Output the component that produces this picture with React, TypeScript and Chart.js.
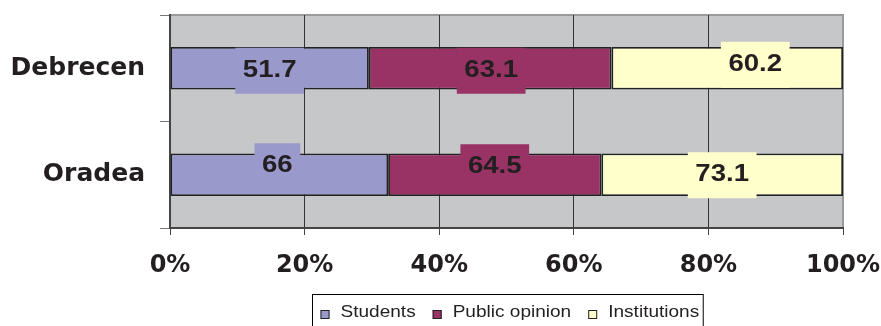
import React, { useEffect, useRef } from "react";
import { Chart, registerables } from "chart.js";

Chart.register(...registerables);

const categories = ["Debrecen", "Oradea"];
const seriesNames = ["Students", "Public opinion", "Institutions"];
const students = [51.7, 66];
const publicOpinion = [63.1, 64.5];
const institutions = [60.2, 73.1];
const seriesValues = [students, publicOpinion, institutions];
const seriesColors = ["#9999cc", "#993366", "#ffffcc"];
const xTickStep = 20;

// label nudges (dx, dy) relative to the bar segment centre, per series per category
const labelOffsets = [
  [[0, 1], [-2, -10]],
  [[1, 1], [0, -9]],
  [[28, -5], [0, -1]],
];

const totals = categories.map((_, j) => seriesValues.reduce((s, arr) => s + arr[j], 0));
const percentData = seriesValues.map((arr) => arr.map((v, j) => (v / totals[j]) * 100));

const TEXT = "#231f20";
const LABEL_SX = 1.15;
const LEGEND_SX = 1.12;

const backgroundPlugin = {
  id: "plotBg",
  beforeDraw(chart: any) {
    const { ctx, chartArea: a } = chart;
    ctx.save();
    ctx.fillStyle = "#c6c7c9";
    ctx.fillRect(a.left, a.top, a.right - a.left, a.bottom - a.top);
    ctx.strokeStyle = "#9a9a9a";
    ctx.lineWidth = 2;
    ctx.beginPath();
    ctx.moveTo(a.left, a.top);
    ctx.lineTo(a.right, a.top);
    ctx.lineTo(a.right, a.bottom);
    ctx.stroke();
    ctx.restore();
  },
};

const valueLabelPlugin = {
  id: "valueLabels",
  afterDatasetsDraw(chart: any) {
    const ctx = chart.ctx;
    chart.data.datasets.forEach((ds: any, i: number) => {
      const meta = chart.getDatasetMeta(i);
      meta.data.forEach((bar: any, j: number) => {
        const text = String(seriesValues[i][j]);
        const off = labelOffsets[i][j];
        const cx = (bar.x + bar.base) / 2 + off[0];
        const cy = bar.y + off[1];
        ctx.save();
        ctx.font = 'bold 24px "Liberation Sans", Arial, sans-serif';
        const tw = ctx.measureText(text).width * LABEL_SX;
        ctx.fillStyle = ds.backgroundColor;
        ctx.fillRect(cx - tw / 2 - 7.5, cy - 21.5, tw + 15, 46);
        ctx.translate(cx, cy);
        ctx.scale(LABEL_SX, 1);
        ctx.textAlign = "center";
        ctx.textBaseline = "middle";
        ctx.fillStyle = TEXT;
        ctx.fillText(text, 0, 1);
        ctx.restore();
      });
    });
  },
};

const legendPlugin = {
  id: "boxLegend",
  afterDraw(chart: any) {
    const { ctx, chartArea: a } = chart;
    const H = chart.height;
    ctx.save();
    ctx.font = '17px "Liberation Sans", Arial, sans-serif';
    const items = chart.data.datasets.map((ds: any) => ({
      text: ds.label,
      color: ds.backgroundColor,
      w: ctx.measureText(ds.label).width * LEGEND_SX,
    }));
    const sq = 9;
    const gapText = 11;
    const gapItem = 17;
    const padL = 8;
    const padR = 4;
    let total = padL + padR;
    items.forEach((it: any, k: number) => {
      total += sq + gapText + it.w + (k > 0 ? gapItem : 0);
    });
    const left = Math.round((a.left + a.right) / 2 - total / 2) + 1.5;
    const top = H - 32 + 0.5;
    ctx.strokeStyle = "#000";
    ctx.lineWidth = 1;
    ctx.strokeRect(left, top, total, 40);
    let x = left + padL;
    items.forEach((it: any) => {
      ctx.fillStyle = it.color;
      ctx.fillRect(x, H - 16, sq, sq);
      ctx.strokeStyle = "#222";
      ctx.strokeRect(x + 0.5, H - 16 + 0.5, sq - 1, sq - 1);
      x += sq + gapText;
      ctx.save();
      ctx.translate(x, H - 9);
      ctx.scale(LEGEND_SX, 1);
      ctx.fillStyle = TEXT;
      ctx.textBaseline = "alphabetic";
      ctx.textAlign = "left";
      ctx.fillText(it.text, 0, 0);
      ctx.restore();
      x += it.w + gapItem;
    });
    ctx.restore();
  },
};

export default function App() {
  const canvasRef = useRef<HTMLCanvasElement | null>(null);

  useEffect(() => {
    if (!canvasRef.current) return;
    const chart = new Chart(canvasRef.current, {
      type: "bar",
      data: {
        labels: categories,
        datasets: seriesNames.map((name, i) => ({
          label: name,
          data: percentData[i],
          backgroundColor: seriesColors[i],
          borderColor: "#222",
          borderWidth: 1.8,
          borderSkipped: false,
          barPercentage: 0.4,
          categoryPercentage: 1,
        })),
      },
      options: {
        indexAxis: "y",
        responsive: false,
        animation: false,
        events: [],
        layout: { padding: { top: 15, right: 38, bottom: 38, left: 0 } },
        plugins: {
          legend: { display: false },
          tooltip: { enabled: false },
        },
        scales: {
          x: {
            stacked: true,
            min: 0,
            max: 100,
            ticks: {
              stepSize: xTickStep,
              callback: (v: any) => v + "%",
              color: TEXT,
              font: { family: '"DejaVu Sans", sans-serif', weight: "bold", size: 24 },
              padding: 16,
              maxRotation: 0,
            },
            grid: {
              color: (c: any) => (c.index === 5 ? "#9a9a9a" : "#333"),
              lineWidth: 1,
              tickLength: 7,
              tickColor: "#444",
            },
            border: { color: "#444", width: 2 },
            afterFit: (s: any) => {
              s.height = 60;
              s.paddingLeft = 0;
              s.paddingRight = 0;
            },
          },
          y: {
            stacked: true,
            ticks: {
              color: TEXT,
              font: { family: '"DejaVu Sans", sans-serif', weight: "bold", size: 25 },
              padding: 15,
            },
            grid: {
              offset: true,
              drawOnChartArea: false,
              drawTicks: true,
              tickLength: 10,
              tickColor: "#777",
            },
            border: { color: "#444", width: 2 },
            afterFit: (s: any) => {
              s.width = 170;
              s.paddingTop = 0;
              s.paddingBottom = 0;
            },
          },
        },
      },
      plugins: [backgroundPlugin, valueLabelPlugin, legendPlugin],
    } as any);
    return () => chart.destroy();
  }, []);

  return (
    <div style={{ position: "fixed", left: 0, top: 0, width: 881, height: 326, background: "#fff" }}>
      <canvas ref={canvasRef} width={881} height={326} />
    </div>
  );
}
